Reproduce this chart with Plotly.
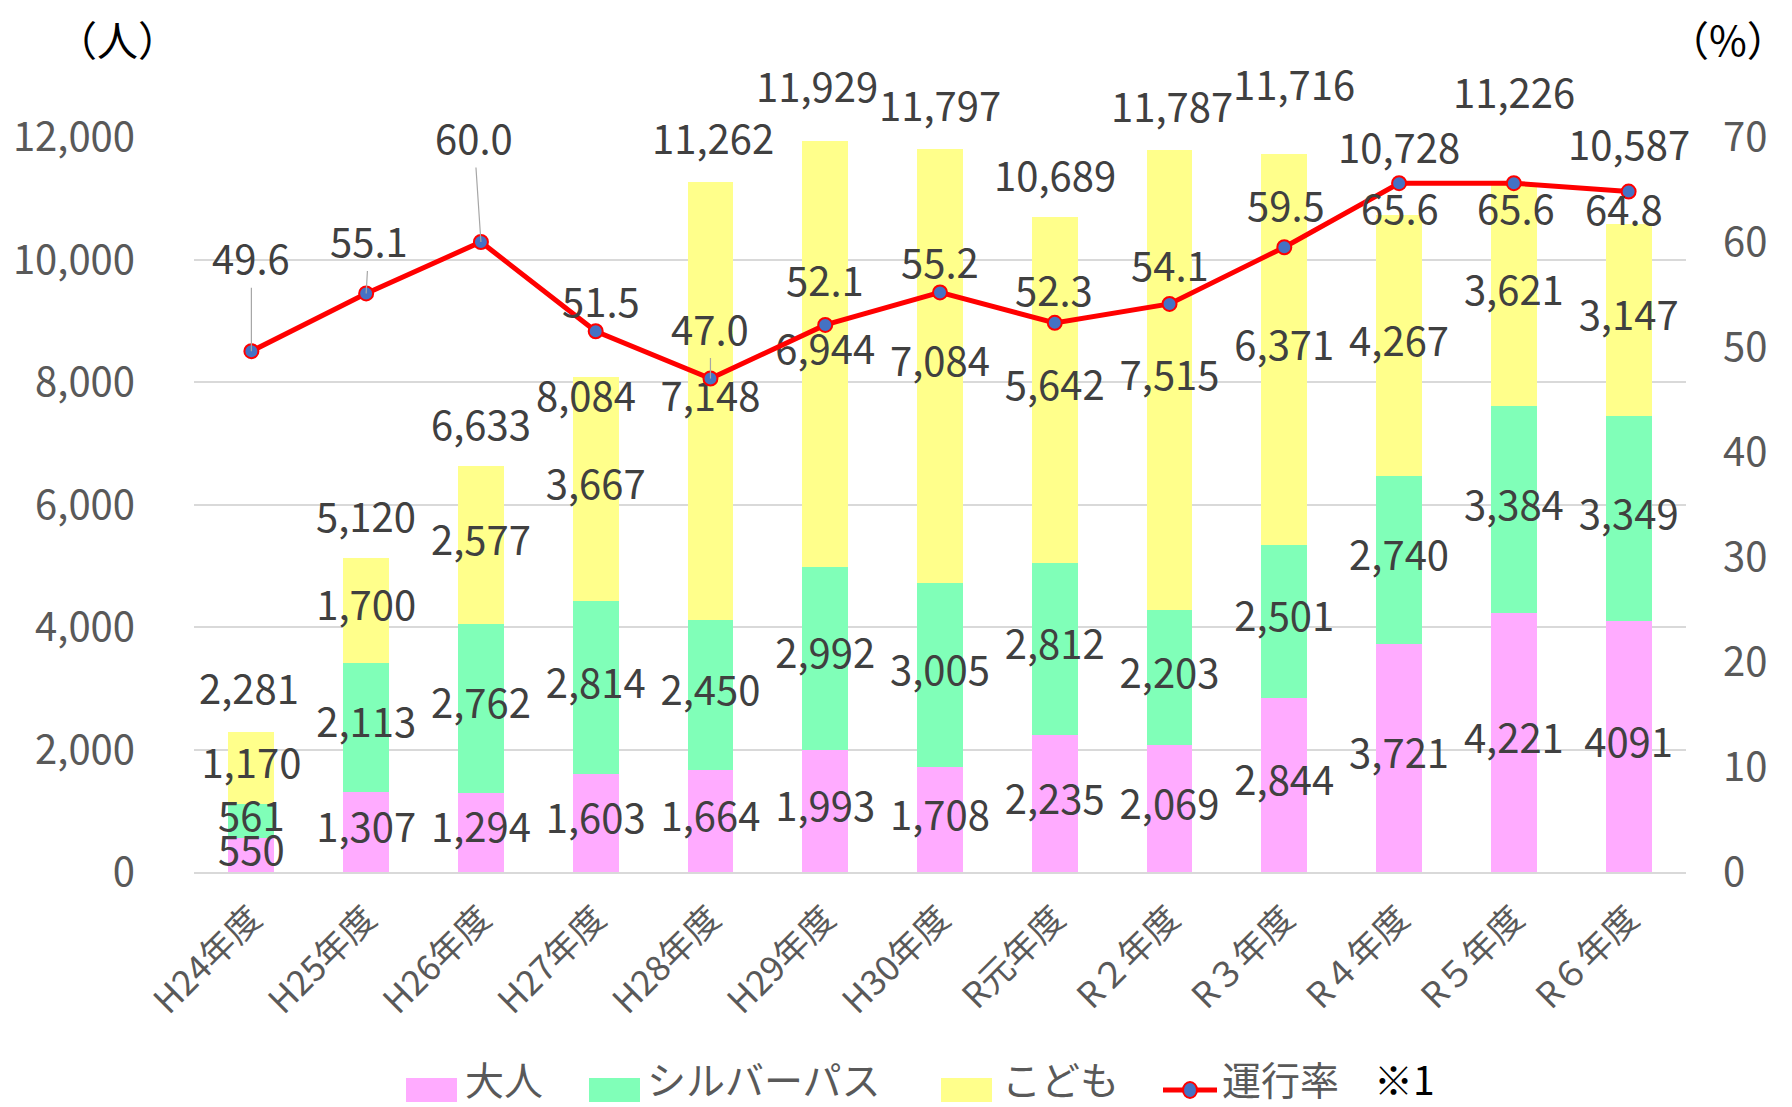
import plotly.graph_objects as go

categories = ["H24年度", "H25年度", "H26年度", "H27年度", "H28年度", "H29年度", "H30年度",
              "R元年度", "R２年度", "R３年度", "R４年度", "R５年度", "R６年度"]
adult = [550, 1307, 1294, 1603, 1664, 1993, 1708, 2235, 2069, 2844, 3721, 4221, 4091]
silver = [561, 2113, 2762, 2814, 2450, 2992, 3005, 2812, 2203, 2501, 2740, 3384, 3349]
child = [1170, 1700, 2577, 3667, 7148, 6944, 7084, 5642, 7515, 6371, 4267, 3621, 3147]
totals = [2281, 5120, 6633, 8084, 11262, 11929, 11797, 10689, 11787, 11716, 10728, 11226, 10587]
rate = [49.6, 55.1, 60.0, 51.5, 47.0, 52.1, 55.2, 52.3, 54.1, 59.5, 65.6, 65.6, 64.8]
y_ticks = [0, 2000, 4000, 6000, 8000, 10000, 12000]
y2_ticks = [0, 10, 20, 30, 40, 50, 60, 70]
series_names = ["大人", "シルバーパス", "こども"]
line_name = "運行率"
note = "※1"

# label placement offsets (pixels)
total_dx = [-2, 0, 0, -10, 3, -8, 0, 0, 2, 10, 0, 0, 0]
total_dy = [45, 43, 43, -17, 45, 56, 45, 43, 45, 71, 69, 93, 81]
rate_ax = [0, 3, -7, 5, 0, 0, 0, -1, 0, 2, 1, 2, -5]
rate_ay = [-94, -53, -105, -31, -51, -46, -31, -34, -40, -43, 24, 24, 16]
rate_leader = [1, 1, 1, 0, 1, 0, 0, 0, 0, 0, 0, 0, 0]

FONT = "Noto Sans CJK JP"
LBL = "#404040"
TICK = "#595959"
PINK = "#FFABFF"
GREEN = "#80FFB8"
YELLOW = "#FFFF8B"
COLORS = [PINK, GREEN, YELLOW]
NUMSIZE = 40

# geometry: page offset of the figure (body margin) and plot area
OFF = 8
W, H = 1792, 1107
L, T = 194 - OFF, 137 - OFF
R = W - (1686 - OFF)
B = H - (872 - OFF)
PW, PH = W - L - R, H - T - B

def px(x):
    return (x - OFF - L) / PW

def py(y):
    return (H - B - (y - OFF)) / PH

def fmt(v):
    return f"{v:,}"

adult_text = [fmt(v) for v in adult]
adult_text[-1] = str(adult[-1])

fig = go.Figure()
for name, vals, col in zip(series_names, [adult, silver, child], COLORS):
    fig.add_trace(go.Bar(x=categories, y=vals, name=name, marker=dict(color=col, line=dict(width=0)),
                         showlegend=False, hoverinfo="skip"))

# segment labels (centered in each segment)
a_mid = [a / 2 for a in adult]
s_mid = [a + s / 2 for a, s in zip(adult, silver)]
c_mid = [a + s + c / 2 for a, s, c in zip(adult, silver, child)]
for mids, txt in [(a_mid, adult_text), (s_mid, [fmt(v) for v in silver]), (c_mid, [fmt(v) for v in child])]:
    fig.add_trace(go.Scatter(x=categories, y=mids, mode="text", text=txt, textposition="middle center",
                             textfont=dict(family=FONT, size=NUMSIZE, color=LBL), showlegend=False,
                             hoverinfo="skip"))

fig.add_trace(go.Scatter(x=categories, y=rate, yaxis="y2", mode="lines+markers", name=line_name,
                         line=dict(color="#FF0000", width=5),
                         marker=dict(symbol="circle", size=14, color="#4472C4",
                                     line=dict(color="#FF0000", width=2)),
                         showlegend=False))

anns = []
for c, t, dx, dy in zip(categories, totals, total_dx, total_dy):
    anns.append(dict(x=c, y=t, xref="x", yref="y", text=fmt(t), showarrow=False,
                     xshift=dx, yshift=dy, font=dict(family=FONT, size=NUMSIZE, color=LBL)))
for c, r, ax, ay, ld in zip(categories, rate, rate_ax, rate_ay, rate_leader):
    anns.append(dict(x=c, y=r, xref="x", yref="y2", text=f"{r:.1f}", showarrow=True,
                     ax=ax, ay=ay, arrowhead=0, arrowwidth=1.2,
                     arrowcolor="#A6A6A6" if ld else "rgba(0,0,0,0)",
                     font=dict(family=FONT, size=NUMSIZE, color=LBL)))
anns.append(dict(x=px(117), y=py(38), xref="paper", yref="paper", text="（人）", showarrow=False,
                 xanchor="center", yanchor="middle",
                 font=dict(family=FONT, size=41, color="#000000")))
anns.append(dict(x=px(1728), y=py(38), xref="paper", yref="paper", text="（%）", showarrow=False,
                 xanchor="center", yanchor="middle",
                 font=dict(family=FONT, size=41, color="#000000")))

# manual legend (page pixel positions)
shapes = []
box_y = 1090
txt_y = 1078
box_x = [406, 589, 941]
text_x = [463, 645, 1000]
for bx, tx, name, col in zip(box_x, text_x, series_names, COLORS):
    shapes.append(dict(type="rect", xref="paper", yref="paper", x0=px(bx), x1=px(bx + 51),
                       y0=py(box_y + 12), y1=py(box_y - 12), fillcolor=col, line=dict(width=0)))
    anns.append(dict(x=px(tx), y=py(txt_y), xref="paper", yref="paper", text=name, showarrow=False,
                     xanchor="left", yanchor="middle", font=dict(family=FONT, size=39, color=TICK)))
shapes.append(dict(type="line", xref="paper", yref="paper", x0=px(1163), x1=px(1217),
                   y0=py(box_y), y1=py(box_y), line=dict(color="#FF0000", width=5)))
shapes.append(dict(type="circle", xref="paper", yref="paper", x0=px(1183), x1=px(1197),
                   y0=py(box_y + 8), y1=py(box_y - 8), fillcolor="#4472C4",
                   line=dict(color="#FF0000", width=2)))
anns.append(dict(x=px(1220), y=py(txt_y), xref="paper", yref="paper", text=line_name, showarrow=False,
                 xanchor="left", yanchor="middle", font=dict(family=FONT, size=39, color=TICK)))
anns.append(dict(x=px(1372), y=py(txt_y), xref="paper", yref="paper", text=note, showarrow=False,
                 xanchor="left", yanchor="middle", font=dict(family=FONT, size=39, color="#000000")))

fig.update_layout(
    width=W, height=H,
    barmode="stack", bargap=0.6,
    plot_bgcolor="white", paper_bgcolor="white",
    margin=dict(l=L, r=R, t=T, b=B, autoexpand=False),
    font=dict(family=FONT, color=TICK),
    showlegend=False,
    xaxis=dict(range=[-0.5, len(categories) - 0.5], tickangle=-45,
               tickfont=dict(family=FONT, size=35, color=TICK),
               showline=True, linecolor="#D9D9D9", linewidth=2, ticks="", automargin=False,
               ticklabelstandoff=10),
    yaxis=dict(range=[0, 12000], tickvals=y_ticks, tickformat=",d",
               tickfont=dict(family=FONT, size=NUMSIZE, color=TICK),
               gridcolor="#D9D9D9", gridwidth=2, zeroline=False, ticks="", ticklabelstandoff=58,
               automargin=False),
    yaxis2=dict(range=[0, 70], tickvals=y2_ticks, overlaying="y", side="right",
                tickfont=dict(family=FONT, size=NUMSIZE, color=TICK), showgrid=False, zeroline=False,
                ticks="", ticklabelstandoff=36, automargin=False),
    annotations=anns,
    shapes=shapes,
)

fig.write_html("out.html")
